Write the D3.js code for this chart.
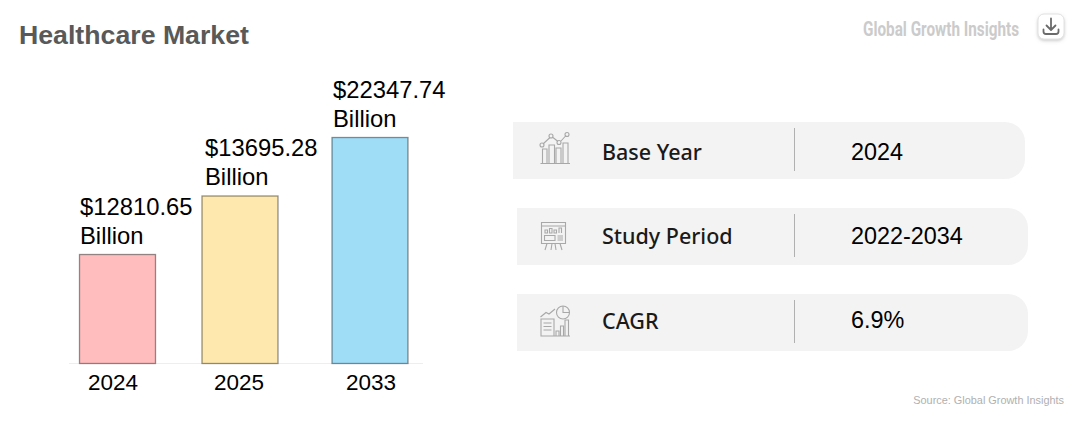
<!DOCTYPE html>
<html>
<head>
<meta charset="utf-8">
<script src="https://cdn.jsdelivr.net/npm/d3@7/dist/d3.min.js"></script>
<style>
  html, body { margin: 0; padding: 0; background: #fff; }
  svg { display: block; }
  text { font-family: "Liberation Sans", Arial, sans-serif; }
</style>
</head>
<body>
<svg id="chart" width="1080" height="421"></svg>
<script>
const years = ["2024", "2025", "2033"];
const marketValues = [12810.65, 13695.28, 22347.74];
const barColors = ["#ffbdbe", "#fee8ad", "#9fdcf6"];
const infoLabels = ["Base Year", "Study Period", "CAGR"];
const infoValues = ["2024", "2022-2034", "6.9%"];

const svg = d3.select("#chart");

// The bars are illustrative rather than to scale, so the height axis is
// piecewise: each stated value has its own stop.
const y = d3.scaleLinear()
  .domain([0, marketValues[0], marketValues[1], marketValues[2]])
  .range([363, 254, 195.5, 137]);

// Bars and their captions are unevenly spaced, hence ordinal position scales.
const xBar = d3.scaleOrdinal().domain(years).range([79.5, 202, 332]);
const xTick = d3.scaleOrdinal().domain(years).range([112.5, 238.5, 370.5]);
const xCaption = d3.scaleOrdinal().domain(years).range([80, 205, 333]);
const barWidth = 76;

svg.append("text")
  .attr("x", 19).attr("y", 44)
  .attr("font-size", 26.7).attr("font-weight", 700).attr("fill", "#595959")
  .text("Healthcare Market");

// Brand mark and download button, top right
svg.append("text")
  .attr("x", 863).attr("y", 36)
  .attr("textLength", 156).attr("lengthAdjust", "spacingAndGlyphs")
  .style("font-family", '"Roboto", sans-serif')
  .attr("font-size", 20).attr("font-weight", 700).attr("fill", "#cbcbcb")
  .text("Global Growth Insights");

const defs = svg.append("defs");
defs.append("filter").attr("id", "btnShadow")
  .attr("x", "-30%").attr("y", "-30%").attr("width", "160%").attr("height", "160%")
  .append("feDropShadow")
  .attr("dx", 0).attr("dy", 1.5).attr("stdDeviation", 1.5)
  .attr("flood-color", "#9a9a9a").attr("flood-opacity", 0.5);

const btn = svg.append("g").attr("transform", "translate(1038,14)");
btn.append("rect")
  .attr("width", 26).attr("height", 25).attr("rx", 6)
  .attr("fill", "#fff").attr("stroke", "#e2e2e2")
  .attr("filter", "url(#btnShadow)");
btn.append("path")
  .attr("d", "M13 4.5V15.5M8.5 11.5L13 16L17.5 11.5M5.5 15.5V17.5Q5.5 20 8 20H18Q20.5 20 20.5 17.5V15.5")
  .attr("fill", "none").attr("stroke", "#6a6a6a").attr("stroke-width", 1.8)
  .attr("stroke-linecap", "round").attr("stroke-linejoin", "round");

// Baseline, bars, value captions
svg.append("line")
  .attr("x1", 69).attr("x2", 423).attr("y1", 363.5).attr("y2", 363.5)
  .attr("stroke", "#eeeeee");

const rows = years.map((year, i) => ({ year, value: marketValues[i], color: barColors[i] }));

svg.selectAll("rect.bar").data(rows).join("rect")
  .attr("class", "bar")
  .attr("x", d => xBar(d.year))
  .attr("y", d => y(d.value) + 0.5)
  .attr("width", barWidth)
  .attr("height", d => y(0) - y(d.value))
  .attr("fill", d => d.color)
  .attr("stroke", "#000").attr("stroke-opacity", 0.42).attr("stroke-width", 1.3);

const captions = svg.selectAll("text.caption").data(rows).join("text")
  .attr("class", "caption")
  .attr("font-size", 23.8).attr("fill", "#000");
captions.append("tspan")
  .attr("x", d => xCaption(d.year)).attr("y", d => y(d.value) - 39.5)
  .text(d => "$" + d.value.toFixed(2));
captions.append("tspan")
  .attr("x", d => xCaption(d.year)).attr("y", d => y(d.value) - 10.5)
  .text("Billion");

const axis = svg.append("g")
  .attr("transform", "translate(0,363)")
  .call(d3.axisBottom(xTick).tickSize(0).tickPadding(11));
axis.select(".domain").remove();
axis.selectAll("text")
  .attr("font-size", 22.5).attr("fill", "#000")
  .style("font-family", '"Liberation Sans", Arial, sans-serif');

// Summary cards on the right
const cardBox = [
  { x: 513, y: 122, w: 512, labelY: 38, valueY: 38 },
  { x: 517, y: 208, w: 511, labelY: 36, valueY: 36 },
  { x: 517, y: 294, w: 511, labelY: 35, valueY: 34 }
];
const cardH = 57, cardR = 20;

const cards = svg.selectAll("g.card").data(infoLabels).join("g")
  .attr("class", "card")
  .attr("transform", (d, i) => `translate(${cardBox[i].x},${cardBox[i].y})`);

cards.append("path")
  .attr("fill", "#f3f3f3")
  .attr("d", (d, i) => {
    const w = cardBox[i].w;
    return `M0 0H${w - cardR}A${cardR} ${cardR} 0 0 1 ${w} ${cardR}V${cardH - cardR}` +
      `A${cardR} ${cardR} 0 0 1 ${w - cardR} ${cardH}H0Z`;
  });

cards.append("line")
  .attr("x1", (d, i) => 794.5 - cardBox[i].x).attr("x2", (d, i) => 794.5 - cardBox[i].x)
  .attr("y1", 6).attr("y2", 49)
  .attr("stroke", "#b0b0b0").attr("stroke-width", 1);

cards.append("text")
  .attr("x", (d, i) => 602 - cardBox[i].x)
  .attr("y", (d, i) => cardBox[i].labelY)
  .attr("font-size", 21.5).attr("fill", "#1a1a1a")
  .style("font-family", '"Noto Sans", "Open Sans", sans-serif')
  .attr("font-weight", 500)
  .text(d => d);

cards.append("text")
  .attr("x", (d, i) => 851 - cardBox[i].x)
  .attr("y", (d, i) => cardBox[i].valueY)
  .attr("font-size", 23.4).attr("fill", "#000")
  .text((d, i) => infoValues[i]);

// Line icons for the three cards
const iconStroke = "#a8a8a8";
function iconGroup(tx, ty) {
  return svg.append("g")
    .attr("transform", `translate(${tx},${ty})`)
    .attr("fill", "none").attr("stroke", iconStroke).attr("stroke-width", 1.1);
}

const growthIcon = iconGroup(540, 132);
growthIcon.append("path").attr("d",
  "M0.5 31.5H30M2.5 31V17H7V31M9 31V13H14.5V31M16 31V16H21V31M23 31V11H28V31" +
  "M3 12L10 5.5M13 5.5L18 9.5M21 9L26 3.5");
[[2, 13], [11, 4], [19, 10.5], [27, 2.5]].forEach(c => {
  growthIcon.append("circle").attr("cx", c[0]).attr("cy", c[1]).attr("r", 2);
});

const boardIcon = iconGroup(541, 222);
boardIcon.append("path").attr("d",
  "M0.5 0.5H24.5V21.5H0.5ZM0.5 4H24.5" +
  "M4 11V8H6.5V11ZM8.5 11V6.5H11V11ZM13 11V8H15.5V11ZM18 11V6H20.5V11" +
  "M3.5 13.5H14V18.5H3.5ZM16.5 14H22M16.5 16H22M16.5 18H22" +
  "M6 21.5L4 28M11 21.5L10 28M14 21.5L15 28M19 21.5L21 28");

const reportIcon = iconGroup(540, 306);
reportIcon.append("path").attr("d",
  "M1 13H14V30H1ZM3.5 17H11.5M3.5 20.5H11.5M3.5 24H11.5" +
  "M16 30V25H19V30M20.5 30V20H23.5V30M25 30V14H28.5V30M14 30H30" +
  "M0.5 11L6 6.5L9 8L15 3");
reportIcon.append("circle").attr("cx", 23).attr("cy", 6.5).attr("r", 6.5);
reportIcon.append("path").attr("d", "M23 0V6.5H29.5");

svg.append("text")
  .attr("x", 1064).attr("y", 404).attr("text-anchor", "end")
  .attr("font-size", 10.9).attr("fill", "#b0b0b0")
  .text("Source: Global Growth Insights");
</script>
</body>
</html>
